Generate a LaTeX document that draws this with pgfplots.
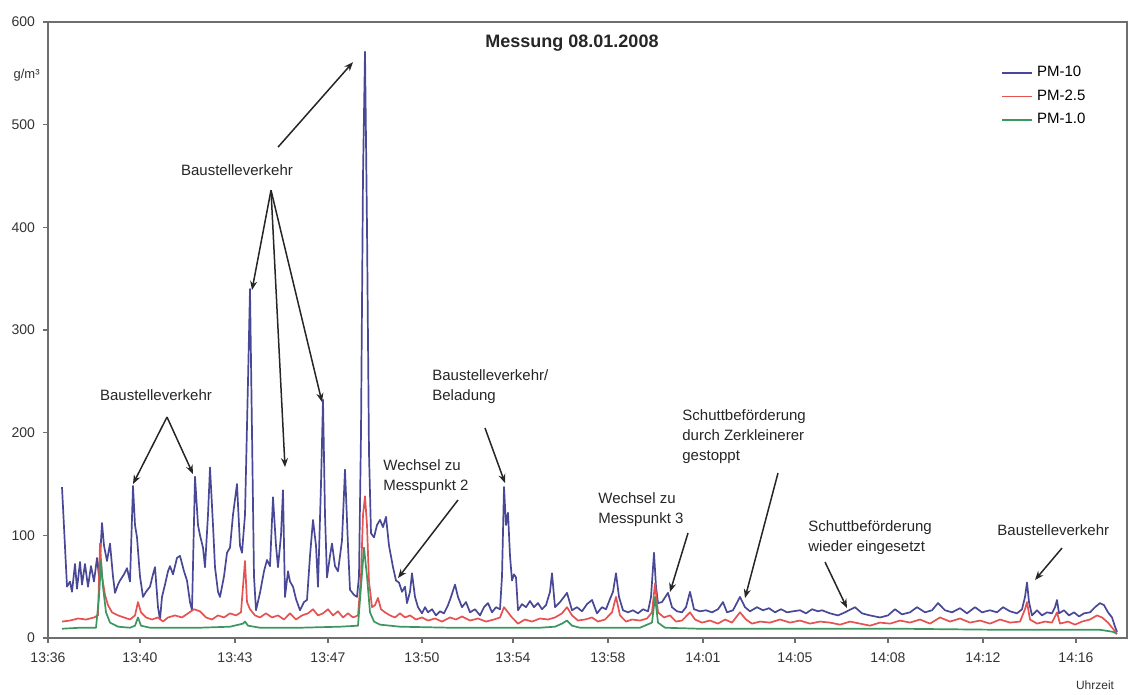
\documentclass[border=0pt]{standalone}
\usepackage{pgfplots}
\pgfplotsset{compat=1.18}
\usepackage{fontspec}
\setmainfont{Liberation Sans}
\usetikzlibrary{arrows.meta}
\definecolor{pmten}{RGB}{72,72,150}
\definecolor{pmtwo}{RGB}{228,82,82}
\definecolor{pmone}{RGB}{60,150,95}
\definecolor{axgray}{RGB}{110,110,110}
\begin{document}
\begin{tikzpicture}
\useasboundingbox (-24pt,-28.5pt) rectangle (541pt,319pt);
\begin{axis}[
  at={(0,0)}, anchor=south west,
  scale only axis, width=539.5pt, height=308pt,
  xmin=0, xmax=1079, ymin=0, ymax=600,
  clip=false,
  xtick={0,92,187,280,374,465,560,655,747,840,935,1028},
  xticklabels={13:36,13:40,13:43,13:47,13:50,13:54,13:58,14:01,14:05,14:08,14:12,14:16},
  ytick={0,100,200,300,400,500,600},
  /pgf/number format/assume math mode=true,
  tick label style={font=\fontsize{7}{8}\selectfont, text=black!80},
  xtick pos=bottom, ytick pos=left,
  tick align=outside, major tick length=2.5pt,
  tick style={axgray, line width=0.6pt},
  axis line style={draw=axgray, line width=0.9pt},
  yticklabel style={xshift=-0.5pt},
  xticklabel style={yshift=-1.5pt},
  legend style={draw=none, fill=none, at={(axis cs:947,565)}, anchor=north west,
    font=\fontsize{7.5}{8.5}\selectfont, row sep=1pt},
  legend cell align=left,
  legend image code/.code={\draw[#1] (0pt,0pt) -- (15pt,0pt);},
  every axis plot/.append style={line width=0.85pt, line join=round},
]
\addplot[pmten] table {
x y
14 147
19 50
22 55
24 45
27 72
29 48
32 74
34 52
37 72
40 50
43 70
46 55
49 78
51 60
54 112
56 90
59 75
62 92
65 60
67 44
70 52
72 56
76 62
79 68
82 55
85 148
87 110
89 98
92 60
95 40
98 45
102 50
105 62
107 69
110 30
112 18
114 40
117 52
120 65
122 70
125 62
129 78
132 80
136 65
139 56
142 35
144 27
147 157
150 110
152 100
155 88
157 69
160 120
162 166
165 110
167 69
170 45
172 40
176 60
179 83
182 88
185 120
189 150
192 90
194 83
197 120
200 250
202 340
204 200
206 60
208 27
212 44
216 65
219 76
222 70
225 137
228 90
230 69
233 100
235 144
237 40
240 65
242 55
245 50
248 38
252 27
256 35
259 37
262 80
265 115
268 90
270 50
273 150
275 232
277 120
279 59
282 80
284 92
287 70
290 65
294 95
297 164
300 90
302 47
306 42
309 40
311 60
313 200
315 450
317 571
319 400
321 180
323 102
326 98
329 110
332 115
335 108
338 118
341 90
345 69
348 56
351 54
354 45
357 50
359 34
362 45
364 63
367 40
370 30
374 24
377 30
380 25
384 28
388 22
392 26
396 24
400 32
403 40
407 52
410 40
414 30
418 35
422 25
427 28
432 22
436 30
440 34
444 25
448 30
452 28
454 60
456 147
458 110
460 122
462 80
464 56
466 62
468 59
470 27
474 33
478 30
482 36
486 30
490 34
494 28
498 32
502 45
504 63
507 30
512 35
516 40
519 44
524 27
529 30
534 26
539 33
544 37
549 24
554 30
558 28
562 38
565 45
568 63
571 40
575 27
580 25
585 27
590 24
595 28
600 26
603 40
606 83
608 50
610 34
614 35
620 44
624 30
629 26
634 25
638 30
642 45
646 28
652 26
658 27
664 25
670 28
675 35
679 25
685 27
692 40
697 30
702 26
709 30
715 27
721 29
727 25
733 28
739 25
745 26
752 27
758 24
764 28
770 26
774 27
782 24
790 22
797 25
807 30
814 24
822 22
832 20
840 22
847 28
854 23
862 25
869 30
877 25
884 27
890 34
897 27
904 25
912 29
919 24
927 30
934 25
942 27
949 25
955 30
962 26
969 24
974 28
977 40
979 54
981 35
984 22
989 27
994 22
999 25
1004 24
1007 30
1009 37
1011 24
1016 27
1021 22
1026 25
1031 21
1036 24
1042 25
1047 30
1052 34
1056 32
1060 25
1064 20
1067 11
1069 6
};
\addlegendentry{PM-10}
\addplot[pmtwo] table {
x y
14 16
22 17
30 19
38 18
46 20
50 22
52 92
54 60
57 42
60 32
64 25
70 22
76 20
82 18
87 22
90 35
93 25
98 20
104 18
110 20
115 16
120 20
127 22
134 20
140 24
146 28
152 26
158 20
164 18
170 22
176 20
182 24
188 22
193 25
195 50
197 75
199 35
202 28
207 22
212 20
218 24
224 20
230 22
236 18
242 24
248 18
254 22
260 24
265 28
270 22
275 24
280 28
285 22
290 26
295 20
300 24
305 20
310 22
313 60
315 120
317 138
319 110
321 55
324 30
327 32
330 39
333 28
337 25
342 22
347 20
352 24
357 20
362 22
368 18
374 20
380 17
387 19
394 16
402 20
408 18
414 21
422 17
430 19
438 16
446 18
452 20
456 30
460 25
464 20
470 14
477 18
484 16
492 19
500 18
507 20
514 24
519 30
524 22
530 17
537 18
544 20
550 16
557 18
564 25
568 40
572 22
578 16
584 18
592 17
599 19
604 25
607 53
610 25
616 20
622 22
628 16
634 17
642 25
647 18
654 15
662 17
670 14
677 18
684 15
692 25
698 18
704 14
712 16
722 15
732 18
742 15
752 17
762 14
772 16
782 15
792 13
802 16
812 14
822 12
832 15
842 14
852 17
862 15
872 18
882 14
892 20
902 16
912 19
922 15
932 17
942 14
952 18
962 15
972 16
977 28
979 35
982 18
989 14
997 16
1004 15
1009 25
1012 14
1020 16
1027 13
1034 16
1042 18
1049 22
1054 20
1060 15
1065 9
1069 4
};
\addlegendentry{PM-2.5}
\addplot[pmone] table {
x y
14 9
32 10
48 10
51 40
53 75
55 50
58 25
62 15
70 11
82 10
87 12
90 20
93 12
102 10
152 10
182 11
195 14
197 16
200 12
212 10
252 10
292 11
310 12
313 50
316 88
319 60
322 25
326 16
332 13
352 11
402 10
452 10
492 10
507 11
514 14
519 17
524 12
532 10
592 10
604 15
607 40
610 15
617 10
652 9
752 9
852 9
952 8
1052 8
1065 6
1069 4
};
\addlegendentry{PM-1.0}

% title and unit
\node[font=\bfseries\fontsize{9}{10}\selectfont, text=black!85] at (axis cs:524,579) {Messung 08.01.2008};
\node[font=\fontsize{6.5}{8}\selectfont, anchor=east, text=black!80, inner sep=0pt] at (axis cs:-8,548) {g/m³};
\node[font=\fontsize{6}{7}\selectfont, text=black!80, inner sep=0pt] at (axis cs:1047,-45.8) {Uhrzeit};

% annotations
\tikzset{ann/.style={font=\fontsize{7.5}{10}\selectfont, align=left, inner sep=0pt, text=black!85},
         arr/.style={-{Stealth[length=4.5pt,width=3.5pt]}, line width=0.75pt, black!85}}
\node[ann] at (axis cs:189,455.7) {Baustelleverkehr};
\draw[arr] (axis cs:230,478.1) -- (axis cs:305,560.9);
\draw[arr] (axis cs:223,436.2) -- (axis cs:204,338.9);
\draw[arr] (axis cs:223,436.2) -- (axis cs:237,166.5);
\draw[arr] (axis cs:223,436.2) -- (axis cs:274,229.8);

\node[ann] at (axis cs:108,236.6) {Baustelleverkehr};
\draw[arr] (axis cs:119,215.2) -- (axis cs:85,150.0);
\draw[arr] (axis cs:119,215.2) -- (axis cs:145,159.7);

\node[ann, anchor=west] at (axis cs:335,156.8) {Wechsel zu\\Messpunkt 2};
\draw[arr] (axis cs:410,134.4) -- (axis cs:350,58.4);

\node[ann, anchor=west] at (axis cs:384,244.9) {Baustelleverkehr/\\Beladung};
\draw[arr] (axis cs:437,204.5) -- (axis cs:457,150.9);

\node[ann, anchor=west] at (axis cs:550,124.6) {Wechsel zu\\Messpunkt 3};
\draw[arr] (axis cs:640,102.2) -- (axis cs:622,44.8);

\node[ann, anchor=west] at (axis cs:634,195.7) {Schuttbeförderung\\durch Zerkleinerer\\gestoppt};
\draw[arr] (axis cs:730,160.7) -- (axis cs:697,38.9);

\node[ann, anchor=west] at (axis cs:760,97.4) {Schuttbeförderung\\wieder eingesetzt};
\draw[arr] (axis cs:777,74.0) -- (axis cs:799,29.2);

\node[ann, anchor=west] at (axis cs:949,105.2) {Baustelleverkehr};
\draw[arr] (axis cs:1014,87.6) -- (axis cs:987,56.5);
\end{axis}
\end{tikzpicture}
\end{document}
